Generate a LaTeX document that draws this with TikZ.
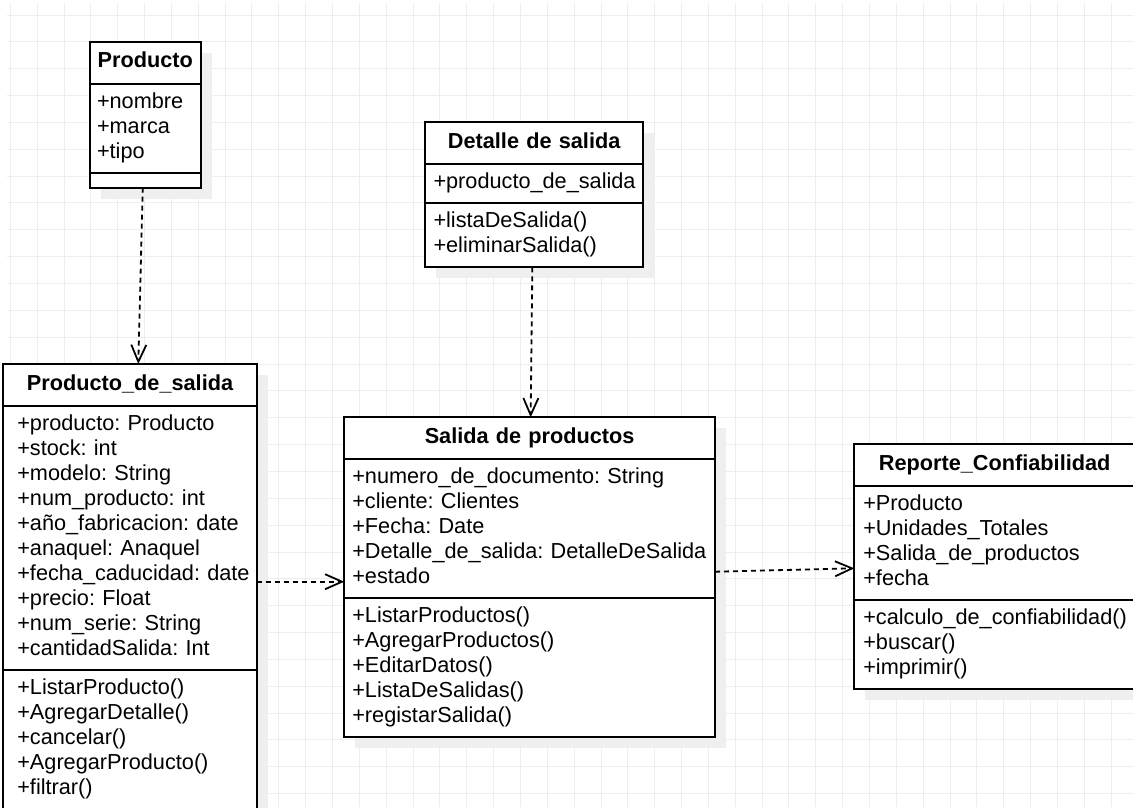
\documentclass[tikz,border=0pt]{standalone}
\usepackage{fontspec}
\setmainfont{Liberation Sans}
\usetikzlibrary{arrows.meta,shadows}
\frenchspacing

\begin{document}
\begin{tikzpicture}[x=1pt,y=-1pt,
  sombreado/.style={drop shadow={shadow xshift=11pt,shadow yshift=-11pt,fill=sombra,opacity=1}},
  titulo/.style={draw,line width=1.8,fill=white,anchor=north west,outer sep=0,
    inner xsep=0,inner ysep=8.5,text width=#1,align=center,
    font=\fontsize{21.7}{25}\selectfont\bfseries,execute at begin node=\strut,sombreado},
  seccion/.style 2 args={draw,line width=1.8,fill=white,anchor=north west,outer sep=0,
    inner xsep=0,inner ysep=7,text width=#1,align=left,
    font=\fontsize{21.7}{25}\selectfont,
    execute at begin node={\leftskip=#2pt\strut},execute at end node=\strut,sombreado},
  vacio/.style={draw,line width=1.8,fill=white,anchor=north west,outer sep=0,
    inner sep=0,minimum width=#1,minimum height=15,sombreado},
  rejilla/.style={line width=1,color=gris},
  dep/.style={line width=1.8,dash pattern=on 5pt off 4pt,-{Straight Barb[length=17pt,width=15pt]}}]

\definecolor{sombra}{RGB}{239,239,239};
\definecolor{gris}{RGB}{238,238,238};

\path[use as bounding box] (0,0) rectangle (1133,807);
\clip (0,0) rectangle (1133,807);

% fondo
\foreach \i in {0,...,41}
  \draw[rejilla] (10.3+26.85*\i,3) -- (10.3+26.85*\i,807);
\foreach \j in {0,...,29}
  \draw[rejilla] (7,15+26.85*\j) -- (1133,15+26.85*\j);

% Producto
\node[titulo=110.7] (prod) at (90,41.7) {Producto};
\node[seccion={110.7}{7}] (prodattr) at (prod.south west) {+nombre\\+marca\\+tipo};
\node[vacio=110.7] (prodmeth) at (prodattr.south west) {};

% Detalle de salida
\node[titulo=218.3] (det) at (425,122.3) {Detalle de salida};
\node[seccion={218.3}{8.5}] (detattr) at (det.south west) {+producto\_de\_salida};
\node[seccion={218.3}{8.5}] (detmeth) at (detattr.south west) {+listaDeSalida()\\+eliminarSalida()};

% Producto_de_salida
\node[titulo=253.4] (prodsal) at (3.3,364) {Producto\_de\_salida};
\node[seccion={253.4}{14}] (prodsalattr) at (prodsal.south west)
  {+producto: Producto\\+stock: int\\+modelo: String\\+num\_producto: int\\+año\_fabricacion: date\\
   +anaquel: Anaquel\\+fecha\_caducidad: date\\+precio: Float\\+num\_serie: String\\+cantidadSalida: Int};
\node[seccion={253.4}{14}] (prodsalmeth) at (prodsalattr.south west)
  {+ListarProducto()\\+AgregarDetalle()\\+cancelar()\\+AgregarProducto()\\+filtrar()};

% Salida de productos
\node[titulo=370.7] (sal) at (344.3,417.3) {Salida de productos};
\node[seccion={370.7}{8}] (salattr) at (sal.south west)
  {+numero\_de\_documento: String\\+cliente: Clientes\\+Fecha: Date\\+Detalle\_de\_salida: DetalleDeSalida\\+estado};
\node[seccion={370.7}{8}] (salmeth) at (salattr.south west)
  {+ListarProductos()\\+AgregarProductos()\\+EditarDatos()\\+ListaDeSalidas()\\+registarSalida()};

% Reporte_Confiabilidad
\node[titulo=280.7] (rep) at (854.3,444.3) {Reporte\_Confiabilidad};
\node[seccion={280.7}{9}] (repattr) at (rep.south west)
  {+Producto\\+Unidades\_Totales\\+Salida\_de\_productos\\+fecha};
\node[seccion={280.7}{9}] (repmeth) at (repattr.south west)
  {+calculo\_de\_confiabilidad()\\+buscar()\\+imprimir()};

% dependencias
\draw[dep] ([xshift=-2.6]prodmeth.south) -- ([xshift=8.3]prodsal.north);
\draw[dep] ([xshift=-1.8]detmeth.south) -- ([xshift=1]sal.north);
\draw[dep] ([yshift=-43.7]prodsalattr.east) -- ([yshift=-52.9]salattr.west);
\draw[dep] ([yshift=-42.9]salattr.east) -- ([yshift=-25]repattr.west);
\end{tikzpicture}
\end{document}
